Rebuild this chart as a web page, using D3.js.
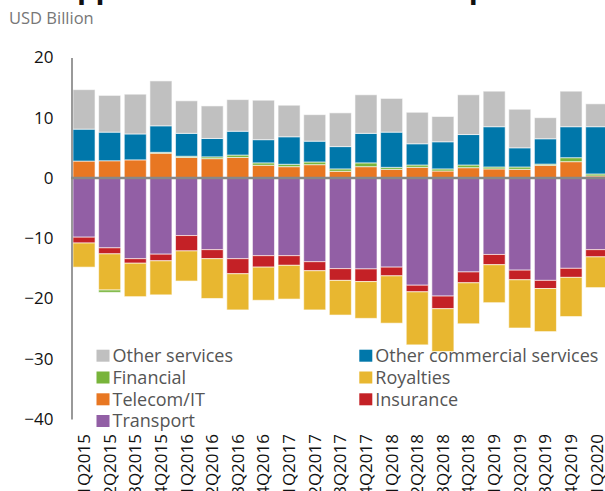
<!DOCTYPE html>
<html><head><meta charset="utf-8">
<script src="https://cdn.jsdelivr.net/npm/d3@7"></script>
<style>body{margin:0;background:#fff;}svg{display:block;}</style>
</head><body><svg id="c" width="605" height="491"></svg>
<script>
const quarters = ["1Q2015","2Q2015","3Q2015","4Q2015","1Q2016","2Q2016","3Q2016","4Q2016","1Q2017","2Q2017","3Q2017","4Q2017","1Q2018","2Q2018","3Q2018","4Q2018","1Q2019","2Q2019","3Q2019","4Q2019","1Q2020"];
const transport =      [-9.83,-11.6,-13.4,-12.65,-9.56,-11.9,-13.4,-12.9,-12.9,-13.9,-15.05,-15.1,-14.8,-17.8,-19.6,-15.6,-12.7,-15.3,-17.0,-15.0,-11.9];
const insurance =      [-0.97,-1.0,-0.75,-1.1,-2.55,-1.5,-2.5,-1.9,-1.6,-1.5,-1.95,-2.1,-1.45,-1.1,-2.1,-1.8,-1.7,-1.6,-1.35,-1.5,-1.2];
const royalties =      [-4.0,-6.0,-5.55,-5.65,-5.0,-6.6,-6.0,-5.5,-5.6,-6.5,-5.75,-6.1,-7.85,-8.8,-7.1,-6.8,-6.3,-8.0,-7.15,-6.5,-5.1];
const telecomIT =      [2.8,2.85,3.0,4.1,3.4,3.2,3.4,2.1,1.87,2.2,1.1,1.87,1.43,1.76,1.15,1.7,1.5,1.43,2.1,2.7,0.33];
const financial =      [0,-0.38,0,0.15,0.2,0.3,0.4,0.4,0.4,0.45,0.4,0.63,0.33,0.39,0.35,0.45,0.32,0.39,0.2,0.66,0.33];
const otherCommercial =[5.3,4.75,4.3,4.4,3.8,3.05,3.95,3.85,4.56,3.45,3.7,4.9,5.84,3.52,4.5,5.05,6.68,3.18,4.2,5.14,7.84];
const otherServices =  [6.55,6.1,6.6,7.45,5.4,5.4,5.25,6.55,5.24,4.4,5.6,6.4,5.6,5.23,4.2,6.6,5.9,6.4,3.5,5.9,3.8];
const yTicks = [20,10,0,-10,-20,-30,-40];

const seriesNames = ["Transport","Insurance","Royalties","Telecom/IT","Financial","Other commercial services","Other services"];
const seriesData = [transport,insurance,royalties,telecomIT,financial,otherCommercial,otherServices];
const colors = {"Transport":"#925fa5","Insurance":"#c42126","Royalties":"#e8b730","Telecom/IT":"#e87722","Financial":"#78b43a","Other commercial services":"#0077aa","Other services":"#c0c0c0"};

const rows = quarters.map((q,i)=>{const r={q}; seriesNames.forEach((s,k)=>r[s]=seriesData[k][i]); return r;});
const stacked = d3.stack().keys(seriesNames).offset(d3.stackOffsetDiverging)(rows);

const svg = d3.select("#c");
const font = "'Open Sans', 'Noto Sans', sans-serif";

const x = d3.scaleBand().domain(quarters).range([71.2,609.5]).paddingInner(0.14).paddingOuter(0.07);
const y = d3.scaleLinear().domain([-40,20]).range([419,57.4]);

// title (mostly clipped at top)
svg.append("text").attr("x",12).attr("y",-2.5).attr("font-family",font).attr("font-weight","bold")
  .attr("font-size",29.5).attr("fill","#111").text("Philippines: Services trade components");

svg.append("text").attr("x",9).attr("y",23.5).attr("font-family",font).attr("font-size",16.5)
  .attr("fill","#777").text("USD Billion");

// bars
svg.append("g").selectAll("g").data(stacked).join("g").attr("fill",d=>colors[d.key])
  .selectAll("rect").data(d=>d).join("rect")
  .attr("x",d=>x(d.data.q)).attr("width",x.bandwidth())
  .attr("y",d=>y(Math.max(d[0],d[1]))).attr("height",d=>Math.abs(y(d[0])-y(d[1])))
  .attr("stroke","#fff").attr("stroke-opacity",0.6).attr("stroke-width",1);

// y axis
const yAxis = d3.axisLeft(y).tickValues(yTicks).tickSize(0).tickPadding(18);
const ga = svg.append("g").attr("transform","translate(71.5,0)").call(yAxis);
ga.select(".domain").attr("stroke","#999").attr("stroke-width",2);
ga.selectAll("text").attr("font-family",font).attr("font-size",17).attr("fill","#111");

// zero line
svg.append("line").attr("x1",71).attr("x2",605).attr("y1",y(0)).attr("y2",y(0))
  .attr("stroke","#888").attr("stroke-width",2.5);

// x axis labels
const xAxis = d3.axisBottom(x).tickSize(0).tickPadding(0);
const gx = svg.append("g").attr("transform","translate(0,434)").call(xAxis);
gx.select(".domain").remove();
gx.selectAll("text").attr("font-family",font).attr("font-size",17).attr("fill","#111")
  .attr("transform","rotate(-90)").attr("text-anchor","end").attr("dy","0.35em").attr("x",0).attr("y",0);

// legend
const legendItems = [
  ["Other services",96.5,355.7],["Other commercial services",359.3,355.7],
  ["Financial",96.5,377.5],["Royalties",359.3,377.5],
  ["Telecom/IT",96.5,399.3],["Insurance",359.3,399.3],
  ["Transport",96.5,421]];
const lg = svg.append("g").selectAll("g").data(legendItems).join("g")
  .attr("transform",d=>`translate(${d[1]},${d[2]})`);
lg.append("rect").attr("x",0).attr("y",-6).attr("width",13).attr("height",12).attr("fill",d=>colors[d[0]]);
lg.append("text").attr("x",16).attr("y",0).attr("dy","0.35em").attr("font-family",font).attr("font-size",18)
  .attr("fill","#555").text(d=>d[0]);
</script></body></html>
